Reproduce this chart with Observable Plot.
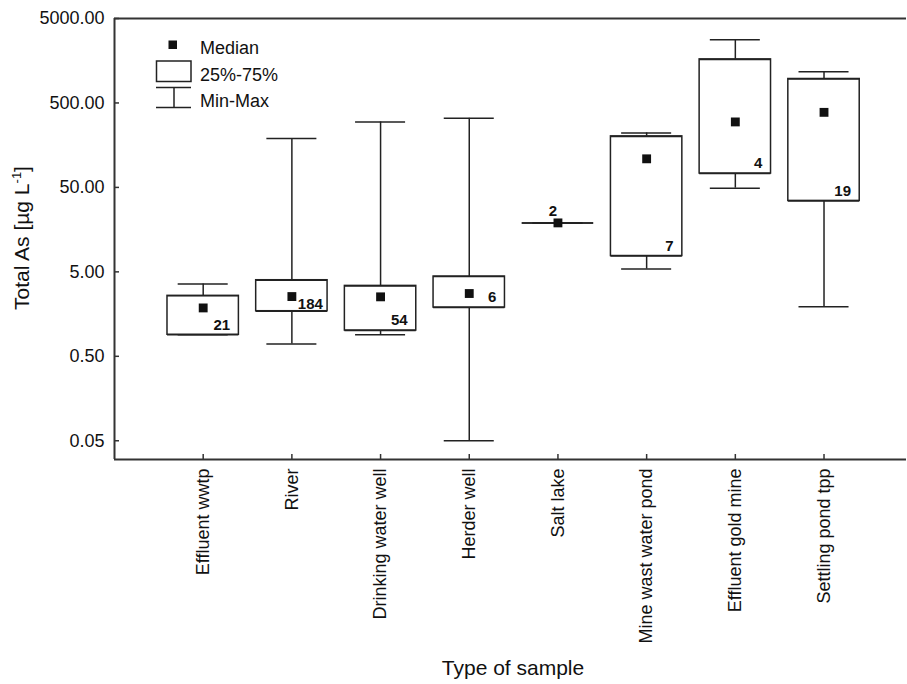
<!DOCTYPE html>
<html><head><meta charset="utf-8">
<script src="https://cdn.jsdelivr.net/npm/d3@7"></script>
<script src="https://cdn.jsdelivr.net/npm/@observablehq/plot@0.6"></script>
<style>
html,body{margin:0;padding:0;background:#fff;}
#wrap{position:relative;width:907px;height:684px;font-family:"Liberation Sans",Arial,sans-serif;}
#overlay{position:absolute;left:0;top:0;pointer-events:none;}
</style></head><body>
<div id="wrap"></div>
<script>
// ---- data ----
const categories = ["Effluent wwtp","River","Drinking water well","Herder well","Salt lake","Mine wast water pond","Effluent gold mine","Settling pond tpp"];
const minValues    = [0.90, 0.70, 0.90, 0.05, 19, 5.4, 49, 1.93];
const q1Values     = [0.90, 1.71, 1.01, 1.89, 19, 7.7, 73, 34.6];
const medianValues = [1.87, 2.55, 2.53, 2.77, 19, 109, 298, 387];
const q3Values     = [2.6, 3.98, 3.41, 4.4, 19, 201, 1640, 961];
const maxValues    = [3.6, 190, 298, 329, 19, 221, 2800, 1170];
const counts       = [21, 184, 54, 6, 2, 7, 4, 19];
const yTicks       = [0.05, 0.5, 5, 50, 500, 5000];
const yTickLabels  = ["0.05", "0.50", "5.00", "50.00", "500.00", "5000.00"];
const yTitle = "Total As [µg L";
const xTitle = "Type of sample";
const legendLabels = ["Median", "25%-75%", "Min-Max"];

const rows = categories.map((c, k) => ({
  cat: c, i: k + 1, min: minValues[k], q1: q1Values[k], median: medianValues[k],
  q3: q3Values[k], max: maxValues[k], n: counts[k]
}));
const xTicks = rows.map(d => d.i);
const yTickRows = yTicks.map((v, k) => ({v, label: yTickLabels[k]}));

const BOX = 0.4025, CAP = 0.282;
const ink = "#222";
const labelStyle = {
  "River": {dx: 31, dy: -7, anchor: "end"},
  "Salt lake": {dx: -5, dy: -12, anchor: "middle"}
};
const ls = d => labelStyle[d.cat] || {dx: 27, dy: -10, anchor: "end"};

const chart = Plot.plot({
  width: 907, height: 684,
  marginLeft: 114, marginRight: 1, marginTop: 18, marginBottom: 225,
  style: {fontFamily: '"Liberation Sans", Arial, sans-serif', background: "#fff", color: "#111"},
  x: {type: "linear", domain: [0, 8.93]},
  y: {type: "log", domain: [0.03, 5000]},
  marks: [
    // frame lines (no right side)
    Plot.ruleY([5000], {stroke: "#333", strokeWidth: 2}),
    Plot.ruleY([0.03], {stroke: "#333", strokeWidth: 2}),
    Plot.ruleX([0], {stroke: "#333", strokeWidth: 2}),
    // inward ticks
    Plot.axisY({ticks: yTicks, tickSize: -5, text: null, label: null, stroke: "#333", strokeWidth: 1.5}),
    Plot.axisX({ticks: xTicks, tickSize: -5, text: null, label: null, stroke: "#333", strokeWidth: 1.5}),
    // tick labels
    Plot.text(yTickRows, {y: "v", text: "label", frameAnchor: "left", dx: -10, textAnchor: "end",
      fontSize: 18, fill: "#111"}),
    Plot.axisX({ticks: xTicks, tickSize: 0, tickPadding: 9, tickRotate: -90,
      tickFormat: d => categories[d - 1], fontSize: 18, label: null}),
    // whiskers
    Plot.ruleX(rows, {x: "i", y1: "q3", y2: "max", stroke: ink, strokeWidth: 1.5}),
    Plot.ruleX(rows, {x: "i", y1: "min", y2: "q1", stroke: ink, strokeWidth: 1.5}),
    Plot.ruleY(rows, {y: "max", x1: d => d.i - CAP, x2: d => d.i + CAP, stroke: ink, strokeWidth: 1.5}),
    Plot.ruleY(rows, {y: "min", x1: d => d.i - CAP, x2: d => d.i + CAP, stroke: ink, strokeWidth: 1.5}),
    // boxes
    Plot.rect(rows, {x1: d => d.i - BOX, x2: d => d.i + BOX, y1: "q1", y2: "q3", fill: "white", stroke: ink, strokeWidth: 1.5}),
    Plot.ruleY(rows, {y: "q1", x1: d => d.i - BOX, x2: d => d.i + BOX, stroke: ink, strokeWidth: 1.5}),
    Plot.ruleY(rows, {y: "q3", x1: d => d.i - BOX, x2: d => d.i + BOX, stroke: ink, strokeWidth: 1.5}),
    // medians
    Plot.dot(rows, {x: "i", y: "median", symbol: "square", r: 5, fill: "#111", stroke: null}),
    // counts
    ...rows.map(d => Plot.text([d], {x: "i", y: "q1", text: "n", dx: ls(d).dx, dy: ls(d).dy,
      textAnchor: ls(d).anchor, fontSize: 15, fontWeight: "bold", fill: "#111"}))
  ]
});
document.getElementById("wrap").appendChild(chart);

// overlay: legend and axis titles
const ov = d3.select("#wrap").append("svg").attr("id", "overlay")
  .attr("width", 907).attr("height", 684)
  .style("font-family", '"Liberation Sans", Arial, sans-serif');
const lg = ov.append("g").attr("stroke", ink).attr("stroke-width", 1.5).attr("fill", "none");
ov.append("rect").attr("x", 168.5).attr("y", 40.5).attr("width", 8.5).attr("height", 8.5).attr("fill", "#111");
lg.append("rect").attr("x", 156.5).attr("y", 61).attr("width", 34.5).attr("height", 20.5);
lg.append("line").attr("x1", 156).attr("x2", 191).attr("y1", 87.5).attr("y2", 87.5);
lg.append("line").attr("x1", 156).attr("x2", 191).attr("y1", 107.5).attr("y2", 107.5);
lg.append("line").attr("x1", 174).attr("x2", 174).attr("y1", 87.5).attr("y2", 107.5);
const lt = ov.append("g").attr("font-size", 18).attr("fill", "#111");
lt.append("text").attr("x", 200).attr("y", 54).text(legendLabels[0]);
lt.append("text").attr("x", 200).attr("y", 81).text(legendLabels[1]);
lt.append("text").attr("x", 200).attr("y", 106.5).text(legendLabels[2]);
const yt = ov.append("text").attr("transform", "translate(29,238) rotate(-90)")
  .attr("text-anchor", "middle").attr("font-size", 21).attr("fill", "#111");
yt.append("tspan").text(yTitle);
yt.append("tspan").attr("font-size", 13).attr("dy", -8).text("-1");
yt.append("tspan").attr("dy", 8).text("]");
ov.append("text").attr("x", 513).attr("y", 675).attr("text-anchor", "middle")
  .attr("font-size", 21).attr("fill", "#111").text(xTitle);
</script>
</body></html>
